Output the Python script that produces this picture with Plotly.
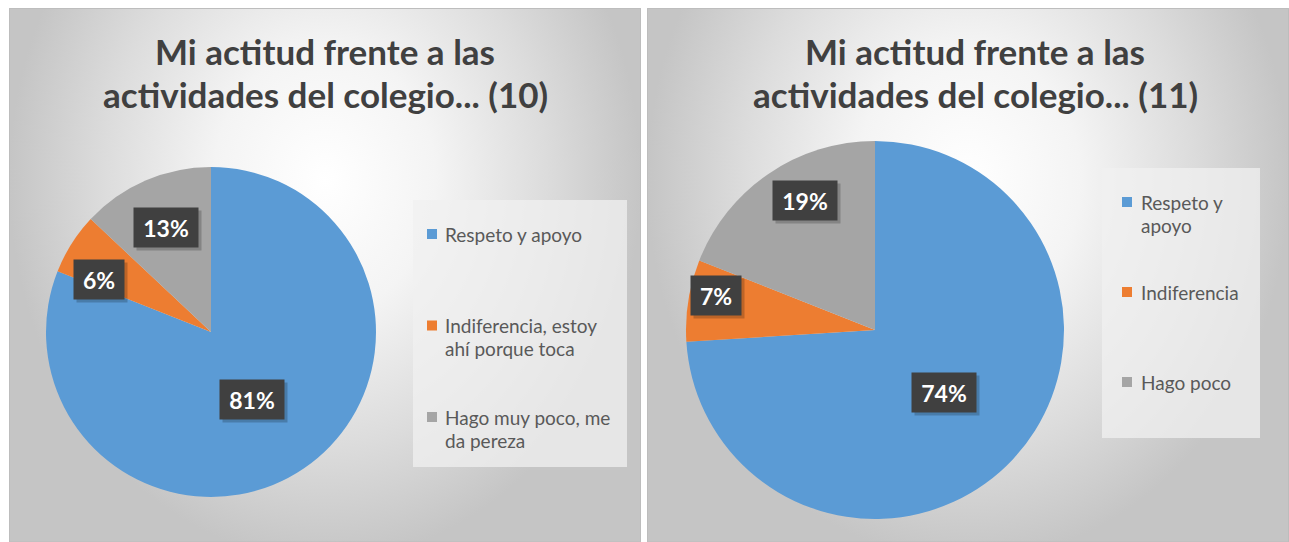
import math
import textwrap
import plotly.graph_objects as go

W, H = 1289, 542

# ---------------- data ----------------
categories_10 = ["Respeto y apoyo", "Indiferencia, estoy ahí porque toca", "Hago muy poco, me da pereza"]
values_10 = [81, 6, 13]
title_10 = ["Mi actitud frente a las", "actividades del colegio... (10)"]

categories_11 = ["Respeto y apoyo", "Indiferencia", "Hago poco"]
values_11 = [74, 7, 19]
title_11 = ["Mi actitud frente a las", "actividades del colegio... (11)"]

slice_colors = ["#5B9BD5", "#ED7D31", "#A5A5A5"]

# ---------------- layout settings (pixels) ----------------
panels = [
    dict(cats=categories_10, vals=values_10, title=title_10,
         x0=9, x1=641, cx=211, cy=332, r=165, title_x=325,
         label_f=[0.48, 0.75, 0.69], label_da=[3, -7.5, 0],
         leg_box=(413, 200, 627, 467), leg_mx=427, leg_tx=443,
         leg_y0=234, leg_dy=91.5, wrap=19),
    dict(cats=categories_11, vals=values_11, title=title_11,
         x0=647, x1=1289, cx=875, cy=330, r=189, title_x=975,
         label_f=[0.49, 0.86, 0.78], label_da=[-1, 3.4, 6],
         leg_box=(1102, 168, 1260, 438), leg_mx=1122, leg_tx=1139,
         leg_y0=202, leg_dy=90, wrap=12),
]

FONT = "Lato"
fig = go.Figure()
shapes = []
annotations = []

for p in panels:
    # panel background with radial gradient
    fig.add_trace(go.Scatter(
        x=[p["x0"], p["x1"], p["x1"], p["x0"], p["x0"]],
        y=[-200, -200, 560, 560, -200],
        mode="lines", line=dict(width=0), fill="toself",
        fillgradient=dict(type="radial",
                          colorscale=[[0, "#ffffff"], [0.35, "#f4f4f4"],
                                      [0.7, "#dcdcdc"], [1, "#c5c5c5"]]),
        hoverinfo="skip", showlegend=False))
    shapes.append(dict(type="rect", xref="x", yref="y", x0=p["x0"] + 0.5, x1=p["x1"] - 0.5,
                       y0=8.5, y1=542, line=dict(color="#bdbdbd", width=1), layer="above"))

    cx, cy, r = p["cx"], p["cy"], p["r"]
    fig.add_trace(go.Pie(
        labels=p["cats"], values=p["vals"], sort=False, direction="clockwise", rotation=0,
        marker=dict(colors=slice_colors, line=dict(width=0)),
        textinfo="none", hoverinfo="label+percent", showlegend=False,
        domain=dict(x=[(cx - r) / W, (cx + r) / W], y=[1 - (cy + r) / H, 1 - (cy - r) / H])))

    # percentage labels
    total = sum(p["vals"])
    cum = 0
    for v, f, da in zip(p["vals"], p["label_f"], p["label_da"]):
        mid = (cum + v / 2) / total * 2 * math.pi + math.radians(da)
        cum += v
        lx = cx + f * r * math.sin(mid)
        ly = cy - f * r * math.cos(mid)
        txt = f"{round(v / total * 100)}%"
        bw = 20 + 14 * len(txt)
        annotations.append(dict(x=lx + 3, y=ly + 3, xref="x", yref="y", text=" ", showarrow=False,
                                width=bw, height=37, bgcolor="rgba(0,0,0,0.2)"))
        annotations.append(dict(x=lx, y=ly, xref="x", yref="y", text=txt, showarrow=False,
                                width=bw, height=37, bgcolor="#404040",
                                font=dict(family=FONT, size=23, color="white", weight=700)))

    # title
    for i, line in enumerate(p["title"]):
        annotations.append(dict(x=p["title_x"], y=51 + 43 * i, xref="x", yref="y", text=line,
                                showarrow=False, xanchor="center", yanchor="middle",
                                font=dict(family=FONT, size=35, color="#404040", weight=700)))

    # legend
    bx0, by0, bx1, by1 = p["leg_box"]
    shapes.append(dict(type="rect", xref="x", yref="y", x0=bx0, x1=bx1, y0=by0, y1=by1,
                       fillcolor="rgba(240,240,240,0.75)", line=dict(width=0), layer="above"))
    for i, (cat, col) in enumerate(zip(p["cats"], slice_colors)):
        yy = p["leg_y0"] + i * p["leg_dy"]
        shapes.append(dict(type="rect", xref="x", yref="y", x0=p["leg_mx"], x1=p["leg_mx"] + 10,
                           y0=yy - 5, y1=yy + 5, fillcolor=col, line=dict(width=0), layer="above"))
        for j, line in enumerate(textwrap.wrap(cat, p["wrap"])):
            annotations.append(dict(x=p["leg_tx"], y=yy + 23 * j, xref="x", yref="y", text=line,
                                    showarrow=False, xanchor="left", yanchor="middle",
                                    font=dict(family=FONT, size=19, color="#595959")))

fig.update_layout(
    width=W, height=H, autosize=False,
    margin=dict(l=0, r=0, t=0, b=0, pad=0),
    paper_bgcolor="white", plot_bgcolor="white",
    xaxis=dict(visible=False, range=[0, W], domain=[0, 1], fixedrange=True),
    yaxis=dict(visible=False, range=[542, 8], domain=[0, 534 / 542], fixedrange=True),
    shapes=shapes, annotations=annotations,
)

fig.write_html("out.html", config={"displayModeBar": False},
               post_script="document.body.style.margin='0';document.body.style.overflow='hidden';")
